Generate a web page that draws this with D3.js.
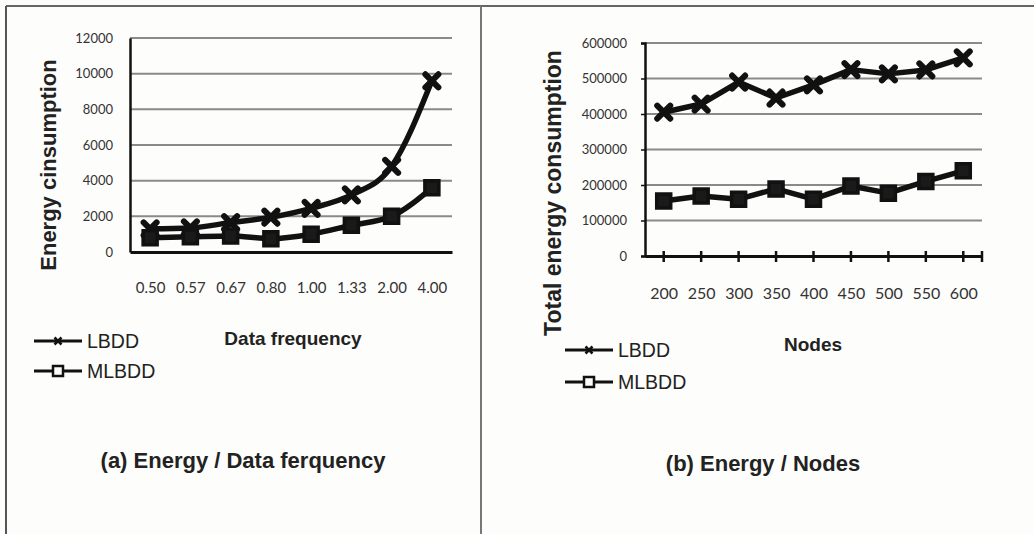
<!DOCTYPE html>
<html>
<head>
<meta charset="utf-8">
<script src="https://cdn.jsdelivr.net/npm/d3@7"></script>
<style>
	body { margin: 0; background: #fdfdfb; }
	svg { display: block; }
	.tick-label { font-family: Lato, "Open Sans", sans-serif; fill: #333; }
	.bold { font-family: "Liberation Sans", Arial, sans-serif; font-weight: bold; fill: #222; }
	.legend { font-family: "Liberation Sans", Arial, sans-serif; fill: #222; }
</style>
</head>
<body>
<script>
// panel (a): energy vs data frequency
var freqLabels = ['0.50', '0.57', '0.67', '0.80', '1.00', '1.33', '2.00', '4.00'];
var freqLBDD = [1300, 1350, 1650, 1950, 2450, 3200, 4800, 9600];
var freqMLBDD = [800, 850, 900, 750, 1000, 1500, 2000, 3600];
var freqYTicks = [0, 2000, 4000, 6000, 8000, 10000, 12000];

// panel (b): total energy vs nodes
var nodeLabels = ['200', '250', '300', '350', '400', '450', '500', '550', '600'];
var nodeLBDD = [405000, 428000, 490000, 445000, 482000, 525000, 513000, 524000, 558000];
var nodeMLBDD = [155000, 169000, 160000, 189000, 160000, 197000, 177000, 210000, 240000];
var nodeYTicks = [0, 100000, 200000, 300000, 400000, 500000, 600000];

var seriesNames = ['LBDD', 'MLBDD'];

var svg = d3.select('body').append('svg').attr('width', 1034).attr('height', 534);

// frame
svg.append('line').attr('x1', 6).attr('x2', 1034).attr('y1', 6).attr('y2', 6)
	.style('stroke', '#666').style('stroke-width', 2);
svg.append('line').attr('x1', 6).attr('x2', 6).attr('y1', 6).attr('y2', 534)
	.style('stroke', '#555').style('stroke-width', 2);
svg.append('line').attr('x1', 481).attr('x2', 481).attr('y1', 6).attr('y2', 534)
	.style('stroke', '#777').style('stroke-width', 2);

function crossPath(s) {
	return 'M' + (-s) + ',' + (-s) + 'L' + s + ',' + s + 'M' + (-s) + ',' + s + 'L' + s + ',' + (-s);
}

function drawPanel(cfg) {
	var g = svg.append('g');
	var x = d3.scalePoint().domain(cfg.labels).range([cfg.x0, cfg.x1]).padding(0.5);
	var y = d3.scaleLinear().domain([0, cfg.yMax]).range([cfg.y0, cfg.y1]);

	// gridlines
	g.append('g').selectAll('line')
		.data(cfg.yTicks.filter(function(d) { return d > 0; }))
		.join('line')
			.attr('x1', cfg.x0).attr('x2', cfg.x1)
			.attr('y1', function(d) { return y(d); })
			.attr('y2', function(d) { return y(d); })
			.style('stroke', '#8a8a8a').style('stroke-width', 2);

	// y axis
	var yAxis = g.append('g').attr('transform', 'translate(' + cfg.x0 + ',0)')
		.call(d3.axisLeft(y).tickValues(cfg.yTicks).tickFormat(d3.format('d'))
			.tickSize(cfg.yTickSize).tickPadding(cfg.yPad));
	yAxis.select('.domain').style('stroke', '#111').style('stroke-width', 2.5);
	yAxis.selectAll('.tick line').style('stroke', '#111').style('stroke-width', 1.5);
	yAxis.selectAll('.tick text').attr('class', 'tick-label').style('font-size', cfg.yFont + 'px');

	// x axis
	var xAxis = g.append('g').attr('transform', 'translate(0,' + cfg.y0 + ')')
		.call(d3.axisBottom(x).tickSize(0).tickPadding(cfg.xPad).tickSizeOuter(0));
	xAxis.select('.domain').style('stroke', '#111').style('stroke-width', 3);
	xAxis.selectAll('.tick text').attr('class', 'tick-label').style('font-size', cfg.xFont + 'px');
	if (cfg.xTicks) {
		var tickPos = cfg.labels.map(function(l) { return x(l); }).concat([cfg.x1]);
		g.append('g').selectAll('line')
			.data(tickPos)
			.join('line')
				.attr('x1', function(d) { return d; }).attr('x2', function(d) { return d; })
				.attr('y1', cfg.y0 - 5).attr('y2', cfg.y0 + 6)
				.style('stroke', '#111').style('stroke-width', 2.5);
	}

	// series
	var line = d3.line()
		.x(function(d, i) { return x(cfg.labels[i]); })
		.y(function(d) { return y(d); })
		.curve(cfg.curve);
	[cfg.a, cfg.b].forEach(function(vals, si) {
		g.append('path').datum(vals)
			.attr('d', line)
			.style('fill', 'none').style('stroke', '#111').style('stroke-width', 5.5)
			.style('stroke-linejoin', 'round');
		var pts = g.append('g').selectAll('path')
			.data(vals)
			.join('path')
				.attr('transform', function(d, i) { return 'translate(' + x(cfg.labels[i]) + ',' + y(d) + ')'; });
		if (si === 0) {
			pts.attr('d', crossPath(6.5)).style('stroke', '#111').style('stroke-width', 6)
				.style('stroke-linecap', 'round');
		} else {
			pts.attr('d', 'M-7,-7H7V7H-7Z').style('fill', '#1a1a1a').style('stroke', '#111').style('stroke-width', 3.5);
		}
	});

	// axis titles
	g.append('text').attr('class', 'bold')
		.attr('transform', 'translate(' + cfg.yTitleX + ',' + cfg.yTitleY + ') rotate(-90)')
		.attr('text-anchor', 'middle')
		.style('font-size', cfg.yTitleFont + 'px')
		.text(cfg.yTitle);
	g.append('text').attr('class', 'bold')
		.attr('x', cfg.xTitleX).attr('y', cfg.xTitleY)
		.attr('text-anchor', 'middle')
		.style('font-size', '19px')
		.text(cfg.xTitle);

	// legend
	seriesNames.forEach(function(name, i) {
		var ly = cfg.legY + i * cfg.legGap;
		g.append('line').attr('x1', cfg.legX).attr('x2', cfg.legX + 48)
			.attr('y1', ly).attr('y2', ly)
			.style('stroke', '#111').style('stroke-width', 3);
		if (i === 0) {
			g.append('path').attr('d', crossPath(3.5))
				.attr('transform', 'translate(' + (cfg.legX + 24) + ',' + ly + ')')
				.style('stroke', '#111').style('stroke-width', 2.5);
		} else {
			g.append('rect').attr('x', cfg.legX + 19).attr('y', ly - 5).attr('width', 10).attr('height', 10)
				.style('fill', '#fdfdfb').style('stroke', '#111').style('stroke-width', 2.5);
		}
		g.append('text').attr('class', 'legend')
			.attr('x', cfg.legX + 53).attr('y', ly + 7)
			.style('font-size', '19.5px')
			.text(name);
	});

	// caption
	g.append('text').attr('class', 'bold')
		.attr('x', cfg.capX).attr('y', cfg.capY)
		.attr('text-anchor', 'middle')
		.style('font-size', '22px')
		.text(cfg.caption);
}

drawPanel({
	labels: freqLabels, a: freqLBDD, b: freqMLBDD, yTicks: freqYTicks, yMax: 12000,
	x0: 130, x1: 452, y0: 252, y1: 38,
	yTickSize: 0, yPad: 17, yFont: 13, xPad: 30, xFont: 15, xTicks: false,
	curve: d3.curveMonotoneX,
	yTitle: 'Energy cinsumption', yTitleX: 56, yTitleY: 165, yTitleFont: 22,
	xTitle: 'Data frequency', xTitleX: 293, xTitleY: 345,
	legX: 34, legY: 341, legGap: 30,
	caption: '(a) Energy / Data ferquency', capX: 243, capY: 468
});

drawPanel({
	labels: nodeLabels, a: nodeLBDD, b: nodeMLBDD, yTicks: nodeYTicks, yMax: 600000,
	x0: 645, x1: 982, y0: 256, y1: 43,
	yTickSize: 4, yPad: 14, yFont: 13, xPad: 32, xFont: 16, xTicks: true,
	curve: d3.curveLinear,
	yTitle: 'Total energy consumption', yTitleX: 561, yTitleY: 193, yTitleFont: 23,
	xTitle: 'Nodes', xTitleX: 813, xTitleY: 351,
	legX: 565, legY: 350, legGap: 32,
	caption: '(b) Energy / Nodes', capX: 763, capY: 471
});
</script>
</body>
</html>
